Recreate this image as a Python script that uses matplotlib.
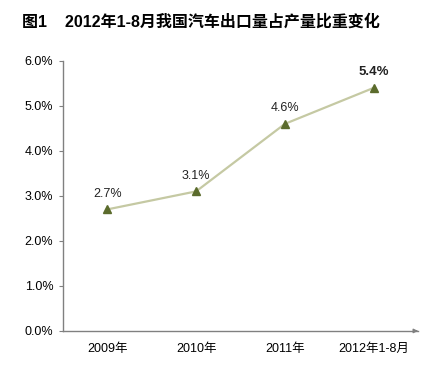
import matplotlib
matplotlib.use("Agg")
import matplotlib.pyplot as plt

plt.rcParams['font.family'] = ['Liberation Sans', 'Noto Sans CJK SC', 'DejaVu Sans']

categories = ['2009年', '2010年', '2011年', '2012年1-8月']
share = [2.7, 3.1, 4.6, 5.4]  # export share of production, %
labels = ['2.7%', '3.1%', '4.6%', '5.4%']
yticks = [0, 1, 2, 3, 4, 5, 6]

fig = plt.figure(figsize=(4.31, 3.71), dpi=100)
ax = fig.add_axes([0.146, 0.108, 0.824, 0.728])

x = list(range(len(categories)))
ax.plot(x, share, color='#c5c9a3', lw=1.6, marker='^', markersize=6,
        markerfacecolor='#5b6b2c', markeredgecolor='#5b6b2c')

for i, (v, t) in enumerate(zip(share, labels)):
    bold = i == len(share) - 1
    ax.annotate(t, (i, v), xytext=(0, 7), textcoords='offset points',
                ha='center', va='bottom', fontsize=9.5 if bold else 9,
                fontweight='bold' if bold else 'normal', color='#222222')

ax.set_xlim(-0.5, 3.5)
ax.set_ylim(0, 6)
ax.set_xticks(x)
ax.set_xticklabels(categories, fontsize=9)
ax.set_yticks(yticks)
ax.set_yticklabels(['%.1f%%' % v for v in yticks], fontsize=9)
ax.tick_params(axis='x', length=0, pad=9)
ax.tick_params(axis='y', length=3, color='#808080', pad=4)

for s in ['top', 'right']:
    ax.spines[s].set_visible(False)
for s in ['left', 'bottom']:
    ax.spines[s].set_color('#808080')
    ax.spines[s].set_linewidth(1)

# small arrow head at the end of the x axis
ax.annotate('', xy=(1.0, 0), xycoords='axes fraction', xytext=(0.985, 0),
            arrowprops=dict(arrowstyle='-|>', color='#808080', lw=1,
                            mutation_scale=6))

fig.text(0.051, 0.94, '图1    2012年1-8月我国汽车出口量占产量比重变化',
         fontsize=11.5, fontweight='bold', va='center', ha='left')

fig.savefig('out.png', dpi=100, facecolor='white')
